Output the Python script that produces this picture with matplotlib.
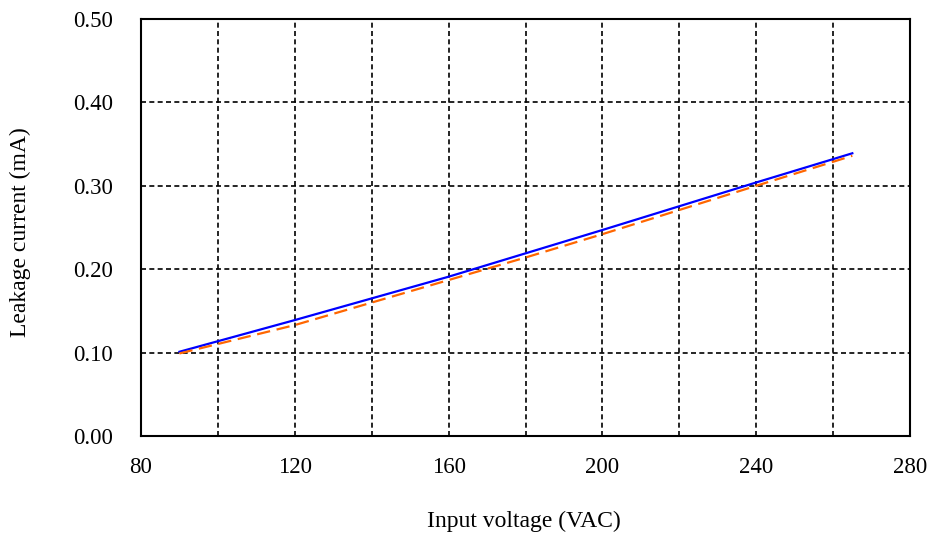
import matplotlib
matplotlib.use("Agg")
import matplotlib.pyplot as plt
from matplotlib.ticker import MultipleLocator

plt.rcParams['font.family'] = ['Liberation Serif', 'DejaVu Serif']

voltage = [90, 120, 160, 180, 200, 240, 265]
leak_a = [0.101, 0.139, 0.191, 0.219, 0.247, 0.304, 0.339]
leak_b = [0.099, 0.133, 0.187, 0.214, 0.242, 0.300, 0.336]

W, H = 933, 538
fig = plt.figure(figsize=(W / 100, H / 100), dpi=100)
ax = fig.add_axes([141/W, 1 - 436/H, (910-141)/W, (436-19)/H])

ax.plot(voltage, leak_a, color='#0000ff', lw=1.6, zorder=3)
ax.plot(voltage, leak_b, color='#ff6600', lw=1.6, dashes=(6, 3), zorder=3)

ax.set_xlim(80, 280)
ax.set_ylim(0, 0.5)
ax.xaxis.set_major_locator(MultipleLocator(40))
ax.xaxis.set_minor_locator(MultipleLocator(20))
ax.yaxis.set_major_locator(MultipleLocator(0.1))
ax.set_yticklabels(['%.2f' % v for v in ax.get_yticks()])
ax.grid(True, which='both', color='black', linestyle=(0, (3, 2)), lw=1.2)
ax.tick_params(which='both', length=0, labelsize=16.5)
ax.tick_params(axis='x', pad=15)
ax.tick_params(axis='y', pad=20)
for s in ax.spines.values():
    s.set_linewidth(1.5)
    s.set_color('black')

fig.text(524/W, 1 - 521/H, 'Input voltage (VAC)', fontsize=17, ha='center', va='center')
fig.text(20/W, 1 - 232/H, 'Leakage current (mA)', fontsize=17, ha='center', va='center',
         rotation=90)

fig.savefig('out.png', dpi=100)
